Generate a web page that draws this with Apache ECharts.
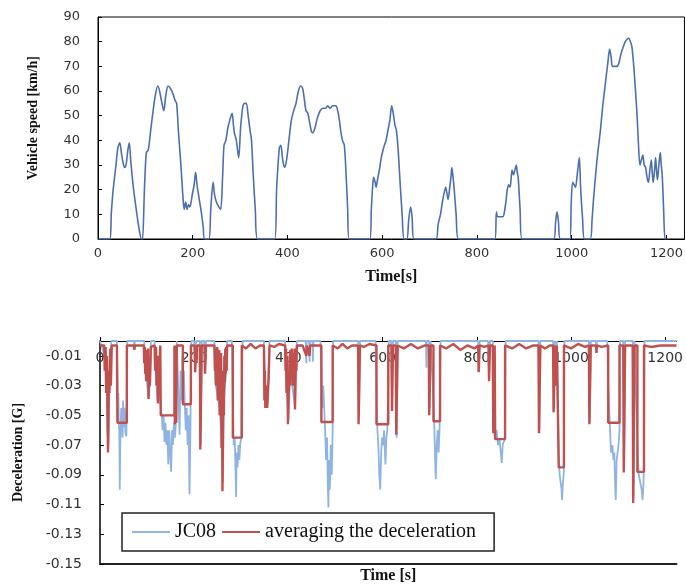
<!DOCTYPE html>
<html>
<head>
<meta charset="utf-8">
<script src="https://cdn.jsdelivr.net/npm/echarts@6/dist/echarts.min.js"></script>
<style>
html, body { margin: 0; padding: 0; background: #fff; }
#chart { width: 686px; height: 585px; }
</style>
</head>
<body>
<div id="chart"></div>
<script>
// vehicle speed trace [time s, km/h]
var speedData = [
  [0,0],[25,0],[28,10],[32,20],[38,30],[42,37],[46,39],[50,34],[54,30],[57,29],[60,31],[63,36],[66,39],[69,32],[74,22],[80,13],[86,5],[92,0],
  [94,0],[98,20],[102,35],[106,36],[110,42],[115,50],[120,57],[126,62],[130,60],[134,56],[139,52],[143,58],[148,62],[153,61],[158,59],[163,56],[166,55],[170,43],[175,30],[179,18],[182,12],[185,15],[188,12],[191,14],[194,13],[199,18],[203,22],[206,27],[209,22],[213,17],[218,11],[222,5],[225,0],
  [234,0],[238,12],[243,23],[246,18],[250,15],[255,13],[259,12],[263,25],[266,38],[270,40],[274,45],[278,48],[283,51],[286,46],[288,43],[292,40],[297,33],[301,45],[306,54],[310,55],[313,55],[317,50],[321,44],[324,40],[328,25],[332,12],[337,0],
  [373,0],[377,20],[380,30],[383,37],[386,38],[390,32],[394,29],[398,32],[403,40],[408,48],[413,52],[418,55],[423,60],[428,62],[432,61],[436,56],[439,52],[443,51],[446,48],[450,44],[453,43],[458,45],[463,49],[469,52],[475,53],[480,53],[485,54],[490,53],[495,54],[502,54],[506,52],[509,49],[513,43],[516,40],[520,38],[524,25],[527,12],[530,0],
  [574,0],[577,12],[580,22],[582,25],[585,23],[587,21],[590,24],[594,28],[598,33],[603,37],[608,40],[612,44],[616,48],[620,54],[624,50],[627,46],[630,44],[634,35],[638,22],[642,10],[646,0],
  [652,0],[656,8],[660,13],[663,9],[667,0],
  [713,0],[718,6],[723,10],[727,15],[731,19],[734,21],[737,18],[739,16],[742,20],[745,25],[747,29],[749,26],[752,20],[756,10],[761,0],
  [838,0],[841,11],[844,9],[849,9],[854,9],[857,10],[861,15],[864,20],[867,22],[870,21],[874,28],[877,26],[880,28],[883,30],[885,27],[887,25],[891,12],[895,0],
  [962,0],[966,7],[969,11],[972,7],[976,0],
  [996,0],[999,15],[1002,23],[1005,22],[1008,21],[1011,25],[1014,30],[1016,33],[1019,20],[1023,8],[1027,0],
  [1039,0],[1043,8],[1046,16],[1050,25],[1055,35],[1060,43],[1065,53],[1071,63],[1076,71],[1080,77],[1083,74],[1086,70],[1090,70],[1095,70],[1099,71],[1104,75],[1109,78],[1113,80],[1117,81],[1120,81.5],[1124,80],[1127,78],[1131,70],[1134,62],[1138,50],[1141,38],[1144,30],[1147,32],[1150,34],[1153,30],[1156,29],[1159,25],[1162,23],[1165,28],[1168,32],[1170,27],[1172,23],[1175,28],[1177,33],[1179,28],[1181,24],[1184,30],[1187,35],[1189,30],[1191,26],[1194,12],[1197,0],[1200,0]
];

// JC08 deceleration [time s, G]
var jc08Data = [
  [0,0],[10,-0.01],[12,-0.02],[14,-0.03],[16,-0.06],[18,-0.07],[20,-0.03],[22,-0.01],[24,0],
  [36,0],[37,-0.03],[38,-0.045],[39,-0.035],[40,-0.058],[41,-0.06],[42,-0.1],[43,-0.07],[44,-0.058],[45,-0.045],[46,-0.06],[47,-0.05],[48,-0.065],[49,-0.04],[50,-0.058],[52,-0.045],[54,-0.062],[56,-0.064],[57,-0.03],[58,0],
  [72,0],[73,-0.005],[74,0],
  [94,0],[96,-0.02],[99,-0.025],[103,-0.038],[106,-0.03],[108,0],
  [116,0],[118,-0.02],[122,-0.04],[126,-0.03],
  [129,-0.045],[131,-0.05],[133,-0.06],[135,-0.05],[137,-0.068],[139,-0.055],[141,-0.07],[143,-0.06],[145,-0.083],[147,-0.06],[149,-0.075],[151,-0.088],[153,-0.06],[155,-0.07],[157,-0.055],[159,-0.065],[161,-0.056],[163,0],
  [167,0],[169,-0.063],[171,-0.02],[173,-0.04],[175,-0.01],
  [176,-0.03],[178,-0.02],[180,-0.042],[182,-0.06],[184,-0.045],[186,-0.07],[188,-0.05],[190,-0.103],[192,-0.06],[193,-0.02],[194,0],
  [200,0],[202,-0.021],[204,0],[212,0],[214,-0.07],[216,0],[221,0],[223,-0.02],[225,0],
  [243,0],[244,-0.02],[246,-0.03],[254,-0.045],[258,-0.065],[261,-0.095],[263,-0.04],[268,-0.02],[270,0],
  [280,0],[282,-0.04],[284,-0.07],[286,-0.065],[288,-0.09],[289,-0.105],[290,-0.075],[292,-0.085],[294,-0.07],[296,-0.08],[298,-0.068],[300,-0.066],[301,-0.03],[303,0],
  [348,0],[352,-0.04],[356,-0.042],[360,0],
  [393,0],[396,-0.03],[400,-0.053],[404,-0.02],[408,-0.03],[414,-0.044],[416,-0.02],[418,0],
  [437,0],[438,-0.015],[439,0],[444,0],[445,-0.014],[446,0],[451,0],[452,-0.014],[453,0],
  [468,0],[470,-0.02],[472,-0.045],[474,-0.03],[476,-0.045],[478,-0.06],[480,-0.08],[482,-0.065],[484,-0.1],[485,-0.112],[486,-0.08],[488,-0.1],[490,-0.07],[492,-0.09],[494,-0.06],[495,0],
  [548,0],[550,-0.05],[552,0],
  [585,0],[587,-0.03],[589,-0.06],[591,-0.07],[593,-0.09],[595,-0.1],[597,-0.075],[599,-0.065],[601,-0.07],[603,-0.06],[605,-0.075],[606,-0.083],[608,-0.065],[610,-0.06],[612,-0.03],[613,0],
  [618,0],[620,-0.047],[622,0],[628,0],[630,-0.065],[632,0],
  [692,0],[693,-0.018],[694,0],[699,0],[700,-0.045],[702,0],
  [706,0],[708,-0.04],[710,-0.06],[712,-0.085],[713,-0.093],[715,-0.07],[717,-0.06],[719,-0.075],[721,-0.058],[722,-0.03],[723,0],
  [803,0],[804,-0.02],[806,0],[824,0],[826,-0.025],[828,0],
  [834,0],[837,-0.06],[839,-0.066],[842,-0.06],[845,-0.07],[848,-0.066],[851,-0.075],[853,-0.082],[855,-0.07],[857,-0.068],[860,-0.066],[861,0],
  [931,0],[933,-0.06],[935,0],[962,0],[964,-0.046],[966,0],[968,-0.03],[970,0],
  [972,0],[974,-0.08],[976,-0.09],[978,-0.095],[980,-0.1],[981,-0.107],[983,-0.095],[985,-0.088],[986,0],
  [1038,0],[1040,-0.055],[1042,0],[1053,0],[1054,-0.008],[1055,0],
  [1077,0],[1079,-0.03],[1081,-0.045],[1083,-0.06],[1085,-0.075],[1088,-0.07],[1090,-0.08],[1092,-0.075],[1094,-0.1],[1095,-0.107],[1097,-0.08],[1099,-0.075],[1101,-0.07],[1103,-0.06],[1104,0],
  [1111,0],[1113,-0.085],[1115,0],[1131,0],[1133,-0.105],[1135,0],
  [1139,0],[1141,-0.07],[1144,-0.09],[1147,-0.095],[1150,-0.1],[1152,-0.107],[1154,-0.095],[1155,-0.08],[1156,0],[1224,0]
];

// averaged deceleration [time s, G]
var averageData = [
  [0,-0.003],[9,-0.003],[10,-0.02],[11,-0.02],[12,-0.004],[13,-0.035],[14,-0.035],[15,-0.01],[16,-0.05],[17,-0.075],[18,-0.075],[19,-0.02],[20,-0.035],[21,-0.035],[22,-0.005],[23,-0.03],[24,-0.03],[25,-0.003],[36,-0.003],
  [37,-0.003],[37,-0.055],[57,-0.055],[57,-0.003],
  [72,-0.003],[73,-0.006],[74,-0.003],
  [93,-0.003],[94,-0.015],[95,-0.004],[96,-0.022],[97,-0.006],[98,-0.027],[99,-0.027],[100,-0.008],[101,-0.018],[102,-0.005],[103,-0.039],[104,-0.039],[105,-0.012],[106,-0.03],[107,-0.03],[108,-0.004],
  [116,-0.003],[117,-0.02],[118,-0.02],[119,-0.004],[120,-0.03],[121,-0.03],[122,-0.01],[123,-0.042],[124,-0.042],[125,-0.01],[126,-0.025],[127,-0.025],[128,-0.003],
  [129,-0.003],[129,-0.05],[158,-0.05],[158,-0.003],[159,-0.056],[160,-0.056],[161,-0.003],[162,-0.055],[163,-0.003],
  [176,-0.003],[176,-0.0425],[193,-0.0425],[193,-0.003],
  [201,-0.003],[202,-0.021],[203,-0.021],[204,-0.003],[205,-0.015],[206,-0.003],
  [212,-0.003],[213,-0.073],[215,-0.073],[216,-0.003],[222,-0.003],[223,-0.022],[224,-0.022],[225,-0.003],
  [243,-0.003],[244,-0.02],[245,-0.005],[246,-0.03],[247,-0.01],[248,-0.022],[249,-0.004],[250,-0.04],[251,-0.012],[252,-0.025],[253,-0.006],[254,-0.05],[255,-0.015],[256,-0.03],[257,-0.008],[258,-0.072],[259,-0.02],[260,-0.101],[261,-0.101],[262,-0.03],[263,-0.05],[264,-0.01],[265,-0.028],[266,-0.005],[267,-0.022],[268,-0.004],[269,-0.02],[270,-0.003],
  [282,-0.003],[282,-0.065],[301,-0.065],[301,-0.003],
  [310,-0.005],[320,-0.002],[330,-0.005],[340,-0.003],
  [348,-0.003],[349,-0.04],[350,-0.02],[351,-0.045],[353,-0.045],[354,-0.03],[355,-0.045],[357,-0.045],[358,-0.025],[360,-0.003],
  [370,-0.004],[380,-0.002],
  [393,-0.003],[394,-0.02],[395,-0.005],[396,-0.035],[397,-0.035],[398,-0.01],[399,-0.056],[401,-0.056],[402,-0.02],[403,-0.03],[404,-0.006],[406,-0.025],[407,-0.005],[409,-0.03],[410,-0.008],[412,-0.02],[413,-0.005],[414,-0.046],[415,-0.046],[416,-0.01],[417,-0.02],[418,-0.003],
  [430,-0.003],[438,-0.01],[439,-0.003],[445,-0.01],[446,-0.003],[460,-0.003],
  [470,-0.003],[470,-0.0545],[494,-0.0545],[494,-0.003],
  [505,-0.005],[515,-0.002],[525,-0.005],[535,-0.003],
  [548,-0.003],[549,-0.056],[551,-0.056],[552,-0.003],[560,-0.004],[572,-0.002],
  [587,-0.003],[587,-0.056],[612,-0.056],[612,-0.003],
  [619,-0.003],[620,-0.047],[621,-0.047],[622,-0.003],[628,-0.003],[629,-0.063],[631,-0.063],[632,-0.003],
  [645,-0.005],[660,-0.002],[675,-0.005],[690,-0.003],
  [698,-0.003],[699,-0.05],[701,-0.05],[702,-0.003],
  [708,-0.003],[708,-0.054],[722,-0.054],[722,-0.003],
  [735,-0.005],[750,-0.002],[765,-0.006],[780,-0.003],[795,-0.005],
  [803,-0.003],[804,-0.021],[805,-0.021],[806,-0.003],[816,-0.004],[825,-0.003],[826,-0.027],[827,-0.027],[828,-0.003],
  [834,-0.003],[835,-0.062],[837,-0.062],[838,-0.003],
  [839,-0.003],[839,-0.066],[860,-0.066],[860,-0.003],
  [875,-0.005],[890,-0.002],[905,-0.005],[920,-0.003],
  [931,-0.003],[932,-0.062],[934,-0.062],[935,-0.003],[945,-0.005],[955,-0.003],[962,-0.003],[963,-0.048],[965,-0.048],[966,-0.003],[967,-0.003],[968,-0.03],[969,-0.03],[970,-0.003],
  [974,-0.003],[974,-0.085],[985,-0.085],[985,-0.003],
  [1000,-0.005],[1015,-0.002],[1030,-0.004],
  [1038,-0.003],[1039,-0.056],[1041,-0.056],[1042,-0.003],[1053,-0.003],[1054,-0.008],[1055,-0.003],[1065,-0.004],
  [1079,-0.003],[1079,-0.055],[1103,-0.055],[1103,-0.003],
  [1111,-0.003],[1112,-0.0885],[1114,-0.0885],[1115,-0.003],[1131,-0.003],[1132,-0.109],[1134,-0.109],[1135,-0.003],
  [1141,-0.003],[1141,-0.088],[1155,-0.088],[1155,-0.003],
  [1170,-0.004],[1190,-0.003],[1224,-0.003]
];

var chart = echarts.init(document.getElementById('chart'));

var tickFont = { fontFamily: 'DejaVu Sans', color: '#333' };
var nameFont = { fontFamily: 'Liberation Serif', fontWeight: 'bold', color: '#111' };
var plainNum = function (v) { return String(v); };

chart.setOption({
  animation: false,
  backgroundColor: '#fff',
  grid: [
    { left: 98, top: 17, right: 0, height: 222, show: true, borderColor: '#000', borderWidth: 1 },
    { left: 100, top: 341, right: 0, height: 224 }
  ],
  legend: {
    left: 122, top: 513,
    padding: [9, 18, 9, 10],
    icon: 'rect', itemWidth: 38, itemHeight: 2, itemGap: 6,
    borderColor: '#222', borderWidth: 1.5,
    backgroundColor: '#fff',
    textStyle: { fontFamily: 'Liberation Serif', fontSize: 20, color: '#111' },
    data: ['JC08', 'averaging the deceleration']
  },
  xAxis: [
    {
      gridIndex: 0, type: 'value', min: 0, max: 1238, interval: 200,
      name: 'Time[s]', nameLocation: 'middle', nameGap: 30,
      nameTextStyle: Object.assign({ fontSize: 16 }, nameFont),
      axisLine: { lineStyle: { color: '#000', width: 1 } },
      axisTick: { inside: true, length: 4, lineStyle: { color: '#000' } },
      axisLabel: Object.assign({ fontSize: 13, margin: 8, showMaxLabel: false, formatter: plainNum }, tickFont),
      splitLine: { show: false }
    },
    {
      gridIndex: 1, type: 'value', position: 'top', min: 0, max: 1224, interval: 200,
      axisLine: { lineStyle: { color: '#000', width: 1 } },
      axisTick: { length: 4, lineStyle: { color: '#000' } },
      axisLabel: Object.assign({ fontSize: 14, inside: true, margin: 10, showMaxLabel: false, formatter: plainNum }, tickFont),
      splitLine: { show: false }
    },
    {
      gridIndex: 1, type: 'value', position: 'bottom', min: 0, max: 1224,
      name: 'Time [s]', nameLocation: 'middle', nameGap: 4,
      nameTextStyle: Object.assign({ fontSize: 16 }, nameFont),
      axisLine: { lineStyle: { color: '#222', width: 2 } },
      axisTick: { show: false }, axisLabel: { show: false }, splitLine: { show: false }
    }
  ],
  yAxis: [
    {
      gridIndex: 0, type: 'value', min: 0, max: 90, interval: 10,
      name: 'Vehicle speed [km/h]', nameLocation: 'middle', nameGap: 58,
      nameTextStyle: Object.assign({ fontSize: 14, padding: [0, 0, 0, 20] }, nameFont),
      axisLine: { show: true, lineStyle: { color: '#000', width: 1 } },
      axisTick: { show: true, inside: true, length: 4, lineStyle: { color: '#000' } },
      axisLabel: Object.assign({ fontSize: 13, margin: 18 }, tickFont),
      splitLine: { show: false }
    },
    {
      gridIndex: 1, type: 'value', min: -0.15, max: 0, interval: 0.02,
      name: 'Deceleration [G]', nameLocation: 'middle', nameGap: 75,
      nameTextStyle: Object.assign({ fontSize: 14 }, nameFont),
      axisLine: { show: true, lineStyle: { color: '#000', width: 1.5 } },
      axisTick: { show: true, inside: true, length: 4, lineStyle: { color: '#000' } },
      axisLabel: Object.assign({
        fontSize: 14, margin: 18, showMaxLabel: false,
        formatter: function (v) { return v.toFixed(2); }
      }, tickFont),
      splitLine: { show: false }
    }
  ],
  series: [
    {
      name: 'Vehicle speed', type: 'line', xAxisIndex: 0, yAxisIndex: 0,
      data: speedData, symbol: 'none', smooth: 0.3,
      lineStyle: { color: '#4d6fae', width: 1.6 }, z: 3
    },
    {
      name: 'JC08', type: 'line', xAxisIndex: 1, yAxisIndex: 1,
      data: jc08Data, symbol: 'none',
      color: '#8fb4e3',
      lineStyle: { color: '#8fb4e3', width: 1.8 }, z: 2
    },
    {
      name: 'averaging the deceleration', type: 'line', xAxisIndex: 1, yAxisIndex: 1,
      data: averageData, symbol: 'none',
      color: '#c0504d',
      lineStyle: { color: '#c0504d', width: 2.4 }, z: 3
    }
  ]
});
</script>
</body>
</html>
